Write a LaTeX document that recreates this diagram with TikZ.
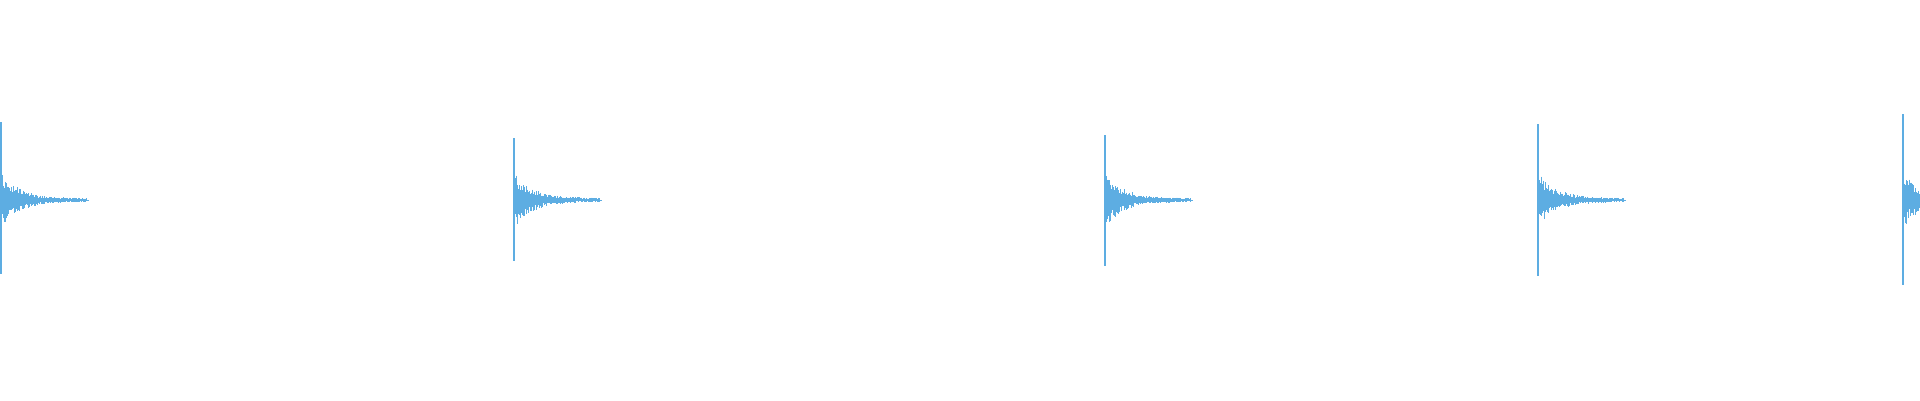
\documentclass[tikz,border=0pt]{standalone}
\definecolor{wave}{HTML}{5DADE2}
\begin{document}
\begin{tikzpicture}
	[x=0.02cm, y=0.02cm,
	spike/.style = {
		draw=wave,
		line width=0.025cm
	},
	bar/.style = {
		draw=wave,
		line width=0.02cm
	}]
	\useasboundingbox (0,0) rectangle (1920,400);
	\pgfmathsetseed{7}
	
	%Draw bursts: position, top, bottom
	\foreach \bx/\btop/\bbot in {1/122/274, 514/138/261, 1105/135/266, 1538/124/276, 1903/114/285}{
		\coordinate (top) at (\bx,400-\btop);
		\coordinate (bot) at (\bx,400-\bbot);
		\draw[spike] (top) -- (bot);
		\foreach \i in {1,...,85}{
			\pgfmathsetmacro{\amp}{(2+26*exp(-\i/18))*(0.45+0.55*rnd)}
			\pgfmathsetmacro{\amq}{(2+26*exp(-\i/18))*(0.45+0.55*rnd)}
			\draw[bar] (\bx+\i,200+\amp) -- (\bx+\i,200-\amq);
		}
		\draw[bar] (\bx,200) -- (\bx+88,200);
	}
\end{tikzpicture}
\end{document}
